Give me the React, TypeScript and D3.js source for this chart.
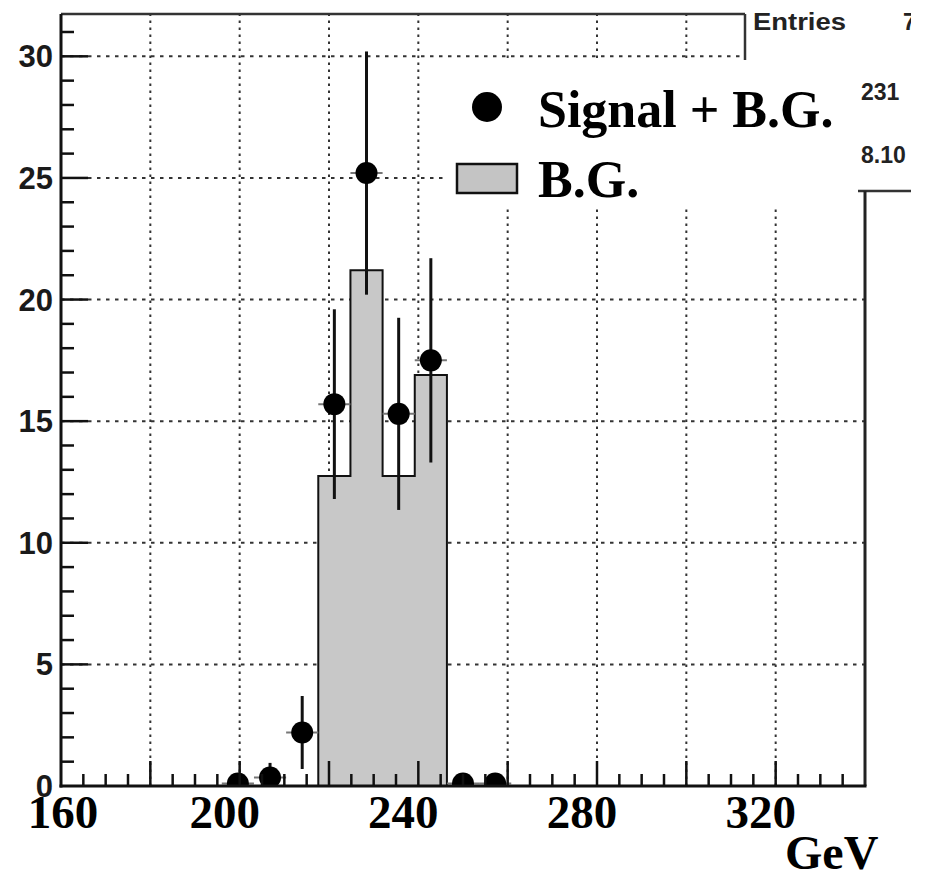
import React from "react";
import * as d3 from "d3";

// ---- data ----
const bgBinLow = [217.6, 224.8, 232, 239.2];
const bgValues = [12.75, 21.2, 12.75, 16.9];
const binWidth = 7.2;
const sigCenters = [199.6, 206.8, 214, 221.2, 228.4, 235.6, 242.8, 250, 257.2];
const sigValues = [0.1, 0.35, 2.2, 15.7, 25.2, 15.3, 17.5, 0.1, 0.1];
const sigErrors = [0.3, 0.6, 1.5, 3.9, 5.0, 3.95, 4.2, 0.3, 0.3];
const xLabelValues = [160, 200, 240, 280, 320];
const yLabelValues = [0, 5, 10, 15, 20, 25, 30];
const legendLabels = ["Signal + B.G.", "B.G."];
const statsLabels = ["Entries", "7", "231", "8.10"];
const unitLabel = "GeV";

const W = 928, H = 875;
const X0 = 61, X1 = 865, Y0 = 786, Y1 = 14;

export default function App() {
  const x = d3.scaleLinear().domain([160, 340]).range([X0, X1]);
  const y = d3.scaleLinear().domain([0, 31.74]).range([Y0, Y1]);

  const gridX = d3.range(180, 340, 20);
  const gridY = d3.range(5, 31, 5);
  const minorX = d3.range(165, 340, 5).filter((v) => v % 20 !== 0);
  const minorY = d3.range(1, 32, 1).filter((v) => v % 5 !== 0);

  // histogram step outline
  const pts: [number, number][] = [];
  bgBinLow.forEach((lo, i) => {
    if (i === 0) pts.push([x(lo), y(0)]);
    pts.push([x(lo), y(bgValues[i])]);
    pts.push([x(lo + binWidth), y(bgValues[i])]);
  });
  pts.push([x(bgBinLow[bgBinLow.length - 1] + binWidth), y(0)]);
  const stepPath = d3.line()(pts) as string;

  const serif = "'Liberation Serif', 'Times New Roman', serif";
  const sans = "'Liberation Sans', Arial, Helvetica, sans-serif";

  return (
    <svg width={W} height={H} style={{ position: "absolute", left: 0, top: 0, background: "#fff" }}>
      <defs>
        <clipPath id="plotClip">
          <rect x={X0} y={Y1} width={X1 - X0} height={Y0 - Y1} />
        </clipPath>
        <clipPath id="statClip">
          <rect x={740} y={0} width={171} height={200} />
        </clipPath>
      </defs>
      <rect x={0} y={0} width={W} height={H} fill="#fff" />

      {/* grid */}
      <g stroke="#333" strokeWidth={2}>
        {gridX.map((v) => (
          <line key={"gx" + v} x1={x(v)} x2={x(v)} y1={Y0} y2={Y1} strokeDasharray="2.5,4.5" />
        ))}
        {gridY.map((v) => (
          <line key={"gy" + v} x1={X0} x2={X1} y1={y(v)} y2={y(v)} strokeDasharray="3.5,5.5" />
        ))}
      </g>

      {/* background histogram */}
      <path d={stepPath + "Z"} fill="#c8c8c8" stroke="none" />
      <path d={stepPath} fill="none" stroke="#111" strokeWidth={2} />

      {/* signal + BG points */}
      <g clipPath="url(#plotClip)">
        {sigCenters.map((c, i) => (
          <g key={"p" + i}>
            <line x1={x(c - binWidth / 2)} x2={x(c + binWidth / 2)} y1={y(sigValues[i])} y2={y(sigValues[i])} stroke="#777" strokeWidth={2} />
            <line x1={x(c)} x2={x(c)} y1={y(sigValues[i] - sigErrors[i])} y2={y(sigValues[i] + sigErrors[i])} stroke="#111" strokeWidth={3} />
            <circle cx={x(c)} cy={y(sigValues[i])} r={11} fill="#000" />
          </g>
        ))}
      </g>

      {/* legend white box */}
      <rect x={443} y={60} width={415} height={145} fill="#fff" />
      <circle cx={487} cy={107} r={15} fill="#000" />
      <text x={538} y={127} fontFamily={serif} fontWeight="bold" fontSize={52} fill="#000">{legendLabels[0]}</text>
      <rect x={457} y={164} width={60} height={29} fill="#c4c4c4" stroke="#111" strokeWidth={2.5} />
      <text x={538} y={197} fontFamily={serif} fontWeight="bold" fontSize={52} fill="#000">{legendLabels[1]}</text>

      {/* stats box */}
      <rect x={746} y={0} width={182} height={60} fill="#fff" />
      <rect x={858} y={0} width={70} height={190} fill="#fff" />
      <g clipPath="url(#statClip)" fontFamily={sans} fontWeight="bold" fill="#222">
        <text x={753} y={30} fontSize={23} textLength={93} lengthAdjust="spacingAndGlyphs">{statsLabels[0]}</text>
        <text x={903} y={30} fontSize={23}>{statsLabels[1]}</text>
        <text x={861} y={100} fontSize={23}>{statsLabels[2]}</text>
        <text x={861} y={163} fontSize={23}>{statsLabels[3]}</text>
      </g>
      <line x1={858} x2={911} y1={191} y2={191} stroke="#333" strokeWidth={2.5} />
      <line x1={745} x2={745} y1={Y1} y2={60} stroke="#333" strokeWidth={2.5} />

      {/* frame */}
      <line x1={X0} x2={745} y1={Y1} y2={Y1} stroke="#333" strokeWidth={2.5} />
      <line x1={X1} x2={X1} y1={191} y2={Y0} stroke="#222" strokeWidth={3} />
      <line x1={X0} x2={X0} y1={Y1} y2={Y0 + 1.5} stroke="#111" strokeWidth={3} />
      <line x1={X0 - 1.5} x2={X1 + 1.5} y1={Y0} y2={Y0} stroke="#111" strokeWidth={3} />

      {/* ticks */}
      <g stroke="#111" strokeWidth={2.5}>
        {gridX.map((v) => (
          <line key={"tx" + v} x1={x(v)} x2={x(v)} y1={Y0} y2={Y0 - 25} />
        ))}
        {minorX.map((v) => (
          <line key={"mx" + v} x1={x(v)} x2={x(v)} y1={Y0} y2={Y0 - 12} />
        ))}
        {gridY.map((v) => (
          <line key={"ty" + v} x1={X0} x2={X0 + 27} y1={y(v)} y2={y(v)} />
        ))}
        {minorY.map((v) => (
          <line key={"my" + v} x1={X0} x2={X0 + 13} y1={y(v)} y2={y(v)} />
        ))}
      </g>

      {/* y labels */}
      <g fontFamily={sans} fontWeight="bold" fontSize={31} fill="#1a1a1a" textAnchor="end">
        {yLabelValues.map((v) => (
          <text key={"yl" + v} x={53} y={y(v) + 11}>{v}</text>
        ))}
      </g>

      {/* x labels */}
      <g fontFamily={serif} fontWeight="bold" fontSize={47} fill="#000" textAnchor="middle">
        {xLabelValues.map((v, i) => (
          <text key={"xl" + v} x={x(v) + (i === 0 ? 2 : -15)} y={828}>{v}</text>
        ))}
      </g>
      <text x={785} y={869} fontFamily={serif} fontWeight="bold" fontSize={48} fill="#000">{unitLabel}</text>
    </svg>
  );
}
